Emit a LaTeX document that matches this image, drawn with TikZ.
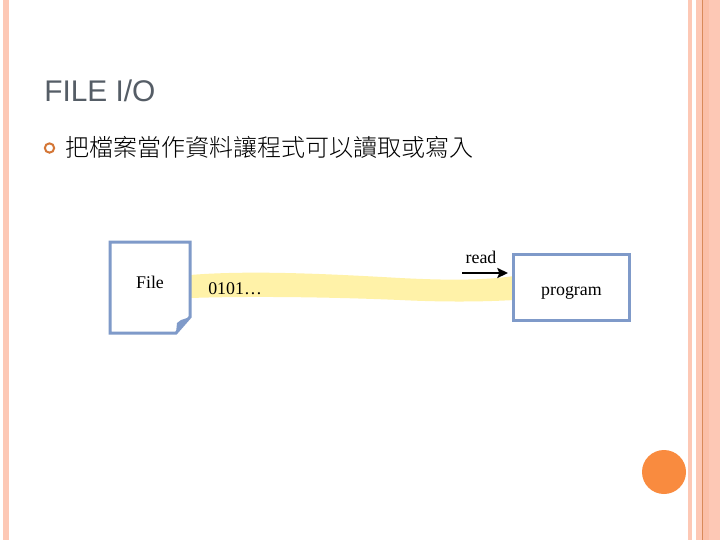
\documentclass[tikz,border=0pt]{standalone}
\usepackage{fontspec}
\setmainfont{Liberation Serif}
\newfontfamily\titlefont{Liberation Sans}
\newfontfamily\cjk{Noto Sans CJK TC Light}
\definecolor{peach}{HTML}{FDC8B5}
\definecolor{peachd}{HTML}{FBBFA8}
\definecolor{rust}{HTML}{D98A5A}
\definecolor{boxblue}{HTML}{7F9AC9}
\definecolor{band}{HTML}{FFF2A8}
\definecolor{titlegray}{HTML}{555D66}
\definecolor{dotorange}{HTML}{F98B3F}
\usetikzlibrary{arrows.meta}
\tikzset{
  stripe/.style={fill=peach,draw=none},
  bluebox/.style={draw=boxblue,line width=2.25pt,fill=white},
  lbl/.style={font=\fontsize{13.4}{15}\selectfont,text=black,inner sep=0pt,anchor=center},
}
\begin{document}
\begin{tikzpicture}[x=0.75pt,y=-0.75pt]
\useasboundingbox (0,0) rectangle (720,540);
\fill[white] (0,0) rectangle (720,540);
% stripes
\fill[stripe] (3,0) rectangle (9,540);
\fill[stripe] (688,0) rectangle (692,540);
\fill[stripe] (696,0) rectangle (720,540);
\fill[peachd] (703,0) rectangle (709,540);
\fill[rust] (702,0) rectangle (703,540);
% title
\node[font=\titlefont\fontsize{22.4}{24}\selectfont,text=titlegray,inner sep=0pt,anchor=west] (title) at (44,91) {FILE I/O};
% bullet
\node[draw=dotorange!85!black,line width=1.5pt,circle,minimum size=7pt,inner sep=0pt,fill=white] (bullet) at (49.5,148) {};
\node[font=\cjk\fontsize{18}{20}\selectfont,text=black,inner sep=0pt,anchor=west] (body) at (65,147.5) {把檔案當作資料讓程式可以讀取或寫入};
% band
\fill[band] (190,275) .. controls (250,270) and (330,274) .. (400,278) .. controls (440,280) and (480,281) .. (514,276)
  -- (514,300) .. controls (480,302) and (440,302) .. (400,300) .. controls (330,297) and (250,296) .. (190,298) -- cycle;
% file
\path[bluebox] (110,242) -- (190,242) -- (190,317) -- (176,333) -- (110,333) -- cycle;
\fill[boxblue] (190,317) -- (176,333) -- (177,323) -- (181,320) -- cycle;
\node[lbl] (file) at (150,282) {File};
\node[lbl,anchor=west] (bits) at (208,289) {0101…};
% program
\node[bluebox,inner sep=0pt,outer sep=0pt,anchor=center,minimum width=86.5pt,minimum height=49pt] (program) at (571.5,287.5) {};
\node[lbl] (programtxt) at (571.5,292.5) {program};
% arrow
\coordinate (readstart) at (462,273);
\coordinate (readend) at (508,273);
\draw[line width=2pt,-{Stealth[length=8pt,width=7.5pt,inset=1.5pt]}] (readstart) -- (readend);
\node[lbl] (read) at (481,257.5) {read};
% orange circle
\node[circle,fill=dotorange,minimum size=33pt,inner sep=0pt] (dot) at (664,472) {};
\end{tikzpicture}
\end{document}
